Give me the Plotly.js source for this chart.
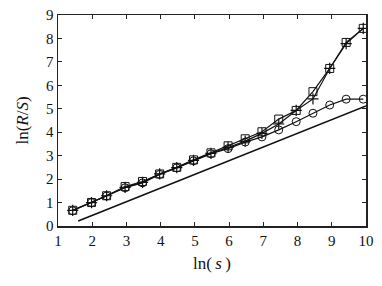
<!DOCTYPE html>
<html>
<head>
<meta charset="utf-8">
<script src="https://cdn.plot.ly/plotly-3.0.1.min.js"></script>
<style>html,body{margin:0;padding:0;background:#fff;}#chart{width:382px;height:286px;}</style>
</head>
<body>
<div id="chart"></div>
<script>
const lnS = [1.43, 1.98, 2.42, 2.96, 3.47, 3.97, 4.47, 4.96, 5.47, 5.97, 6.47, 6.96, 7.45, 7.96, 8.45, 8.94, 9.42, 9.92];
const seriesSquare = [0.67, 1.0, 1.29, 1.68, 1.9, 2.22, 2.5, 2.82, 3.12, 3.42, 3.72, 4.02, 4.56, 4.93, 5.73, 6.72, 7.83, 8.43];
const seriesCross = [0.67, 1.0, 1.29, 1.65, 1.86, 2.22, 2.49, 2.8, 3.1, 3.35, 3.62, 3.95, 4.35, 4.93, 5.42, 6.72, 7.78, 8.43];
const seriesCircle = [0.65, 1.0, 1.28, 1.63, 1.84, 2.2, 2.48, 2.78, 3.08, 3.3, 3.58, 3.8, 4.1, 4.45, 4.81, 5.16, 5.41, 5.41];
const refLineX = [1.59, 10.0];
const refLineY = [0.21, 5.12];
const xTicks = [1, 2, 3, 4, 5, 6, 7, 8, 9, 10];
const yTicks = [0, 1, 2, 3, 4, 5, 6, 7, 8, 9];

const serif = 'Liberation Serif, Times New Roman, serif';
const lineStyle = {color: '#111', width: 1.2};
const traces = [
  {x: lnS, y: seriesCircle, mode: 'lines+markers', line: lineStyle,
   marker: {symbol: 'circle-open', size: 8, color: '#111', line: {width: 1}}},
  {x: lnS, y: seriesCross, mode: 'lines+markers', line: lineStyle,
   marker: {symbol: 'cross-thin-open', size: 8, color: '#111', line: {width: 1.2}}},
  {x: lnS, y: seriesSquare, mode: 'lines+markers', line: lineStyle,
   marker: {symbol: 'square-open', size: 8, color: '#111', line: {width: 1}}},
  {x: refLineX, y: refLineY, mode: 'lines', line: {color: '#111', width: 1.6}}
];

const axisCommon = {
  showgrid: false, zeroline: false, showline: true, linecolor: '#222', linewidth: 1.5,
  mirror: 'ticks', ticks: 'inside', ticklen: 4, tickcolor: '#222', tickwidth: 1,
  tickfont: {family: serif, size: 15, color: '#111'}
};

const layout = {
  width: 382, height: 286,
  margin: {l: 58, r: 16, t: 15, b: 60},
  paper_bgcolor: '#fff', plot_bgcolor: '#fff',
  showlegend: false,
  xaxis: Object.assign({}, axisCommon, {
    range: [1, 10], tickvals: xTicks, ticktext: xTicks.map(String),
    title: {text: 'ln(\u2009<i>s</i>\u2009)', standoff: 9,
      font: {family: serif, size: 17, color: '#111'}}
  }),
  yaxis: Object.assign({}, axisCommon, {
    range: [0, 9], tickvals: yTicks, ticktext: yTicks.map(String),
    title: {text: 'ln(<i>R</i>/<i>S</i>)', standoff: 13,
      font: {family: serif, size: 17, color: '#111'}}
  })
};

Plotly.newPlot('chart', traces, layout, {displayModeBar: false, staticPlot: true});
</script>
</body>
</html>
